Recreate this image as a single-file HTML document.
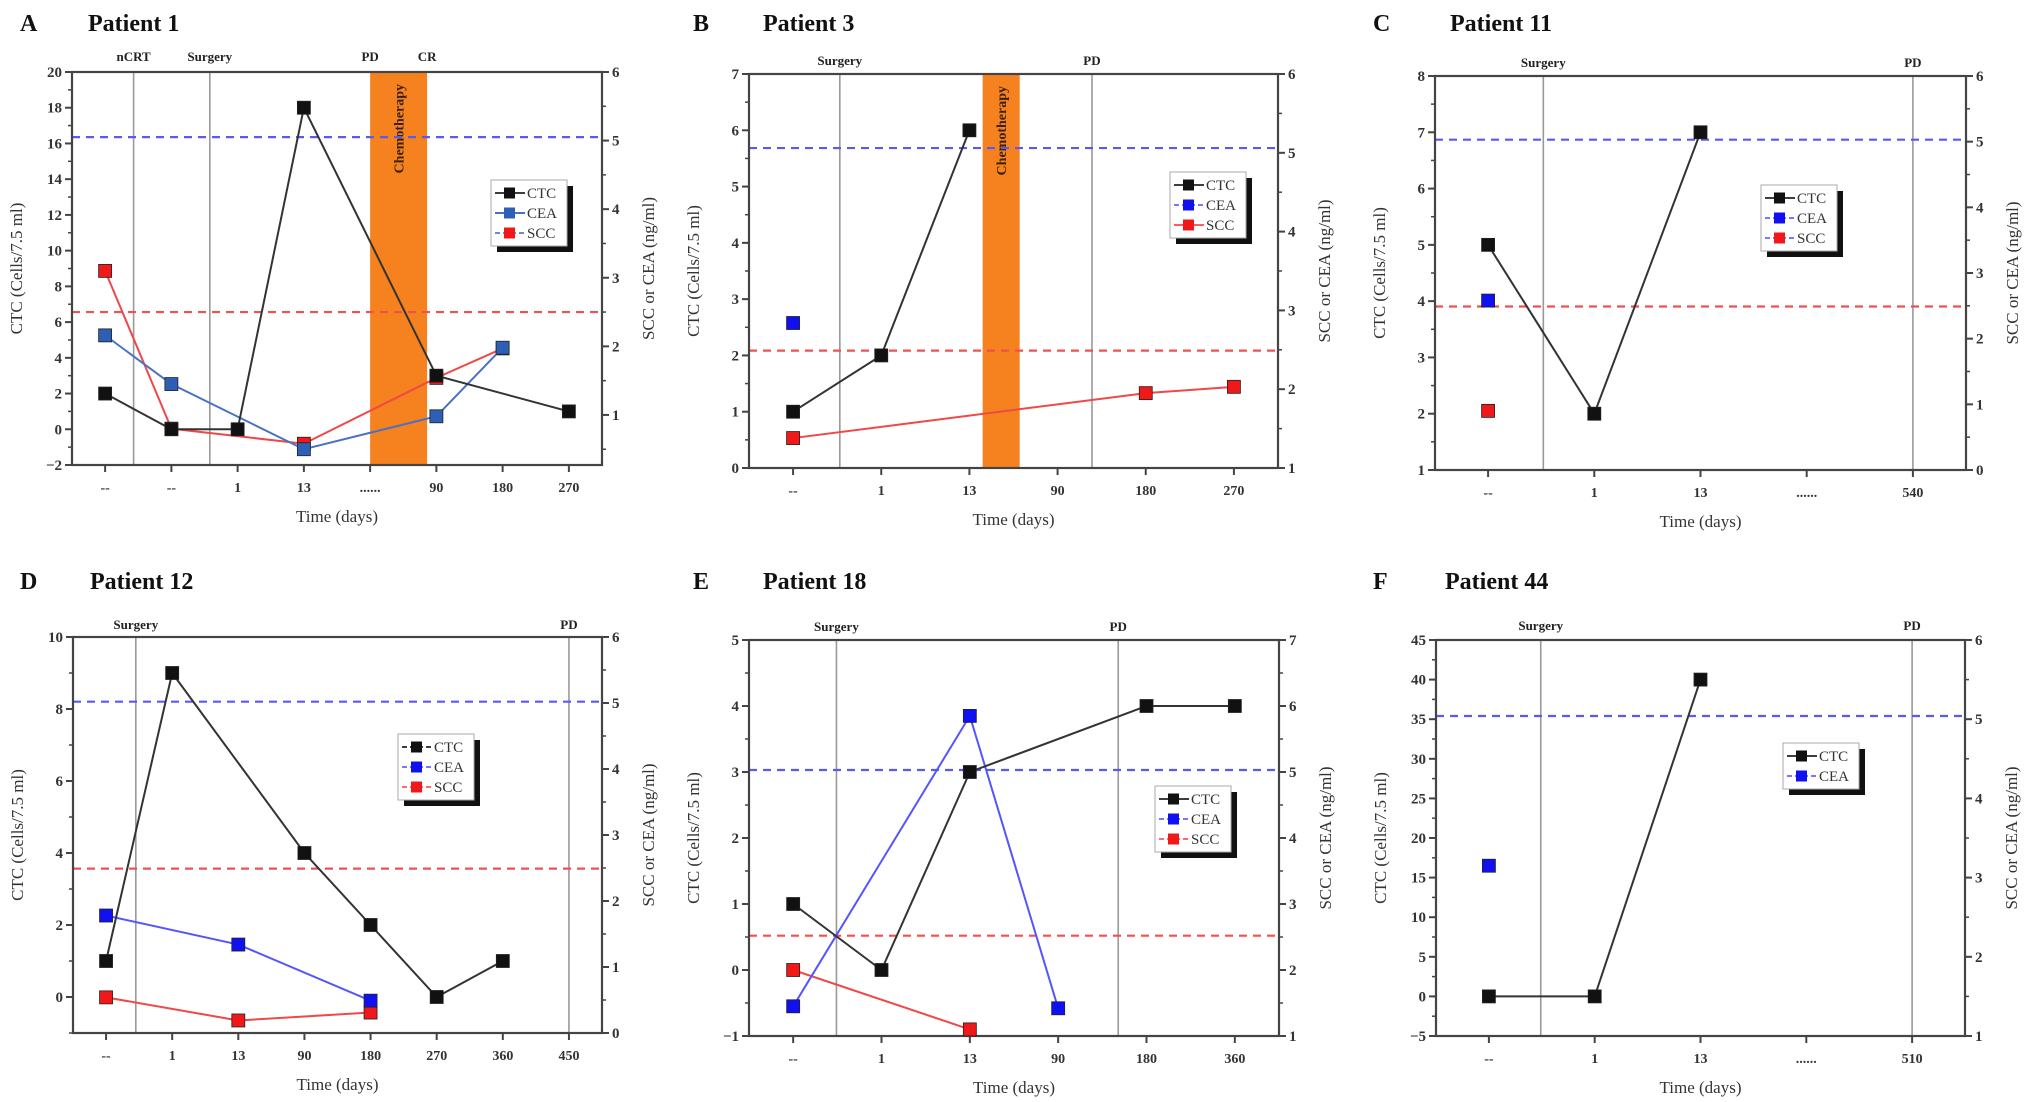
<!DOCTYPE html>
<html><head><meta charset="utf-8">
<style>
html,body{margin:0;padding:0;background:#fff;}
svg{display:block;font-family:"Liberation Serif",serif;}
</style></head>
<body>
<svg id="fig" width="2031" height="1102" viewBox="0 0 2031 1102" xmlns="http://www.w3.org/2000/svg"></svg>
<script>
// ---------- Data ----------
// Patient 1
const p1Labels=["--","--","1","13","......","90","180","270"];
const p1Ctc=[2,0,0,18,null,3,null,1];
const p1Cea=[2.16,1.45,null,0.5,null,0.98,1.98,null];
const p1Scc=[3.1,0.8,null,0.58,null,1.54,1.97,null];
const p1LeftTicks=[-2,0,2,4,6,8,10,12,14,16,18,20];
const p1RightTicks=[1,2,3,4,5,6];
// Patient 3
const p3Labels=["--","1","13","90","180","270"];
const p3Ctc=[1,2,6,null,null,null];
const p3Cea=[2.84,null,null,null,null,null];
const p3Scc=[1.38,null,null,null,1.95,2.03];
const p3LeftTicks=[0,1,2,3,4,5,6,7];
const p3RightTicks=[1,2,3,4,5,6];
// Patient 11
const p11Labels=["--","1","13","......","540"];
const p11Ctc=[5,2,7,null,null];
const p11Cea=[2.58,null,null,null,null];
const p11Scc=[0.9,null,null,null,null];
const p11LeftTicks=[1,2,3,4,5,6,7,8];
const p11RightTicks=[0,1,2,3,4,5,6];
// Patient 12
const p12Labels=["--","1","13","90","180","270","360","450"];
const p12Ctc=[1,9,null,4,2,0,1,null];
const p12Cea=[1.78,null,1.34,null,0.49,null,null,null];
const p12Scc=[0.54,null,0.19,null,0.31,null,null,null];
const p12LeftTicks=[0,2,4,6,8,10];
const p12RightTicks=[0,1,2,3,4,5,6];
// Patient 18
const p18Labels=["--","1","13","90","180","360"];
const p18Ctc=[1,0,3,null,4,4];
const p18Cea=[1.45,null,5.85,1.42,null,null];
const p18Scc=[2.0,null,1.1,null,null,null];
const p18LeftTicks=[-1,0,1,2,3,4,5];
const p18RightTicks=[1,2,3,4,5,6,7];
// Patient 44
const p44Labels=["--","1","13","......","510"];
const p44Ctc=[0,0,40,null,null];
const p44Cea=[3.15,null,null,null,null];
const p44LeftTicks=[-5,0,5,10,15,20,25,30,35,40,45];
const p44RightTicks=[1,2,3,4,5,6];
// thresholds (right axis units)
const ceaCutoff=[5.05,5.06,5.03,5.02,5.03,5.04];
const sccCutoff=[2.5,2.49,2.49,2.49,2.52,null];

// ---------- Layout ----------
const panels=[
 {id:'a',letter:'A',title:'Patient 1',lx:20,tx:88,ty:31,L:72,T:72,R:602,B:465,
  yMin:-2,yMax:20,yTicks:p1LeftTicks,yMinor:1,rMin:0.27,rMax:6,rTicks:p1RightTicks,
  labels:p1Labels,ctc:p1Ctc,cea:p1Cea,scc:p1Scc,ceaColor:'#2d5fb5',ceaLine:'#4a72c0',
  events:[{pos:0.43,t:'nCRT',line:true},{pos:1.58,t:'Surgery',line:true},{pos:4.0,t:'PD',line:false},{pos:4.86,t:'CR',line:false}],
  band:[4.0,4.86],evY:56,
  legend:{x:491,y:180,styles:['solid','solid','dashed'],lc:['#222','#2d5fb5','#5a78d0']},idx:0},
 {id:'b',letter:'B',title:'Patient 3',lx:693,tx:763,ty:31,L:749,T:74,R:1278,B:468,
  yMin:0,yMax:7,yTicks:p3LeftTicks,yMinor:0.5,rMin:1,rMax:6,rTicks:p3RightTicks,
  labels:p3Labels,ctc:p3Ctc,cea:p3Cea,scc:p3Scc,ceaColor:'#1010f0',ceaLine:'#5555ff',
  events:[{pos:0.53,t:'Surgery',line:true},{pos:3.39,t:'PD',line:true}],
  band:[2.15,2.57],evY:60,
  legend:{x:1170,y:172,styles:['solid','dashed','solid'],lc:['#222','#6666ff','#ff4444']},idx:1},
 {id:'c',letter:'C',title:'Patient 11',lx:1373,tx:1450,ty:31,L:1435,T:76,R:1966,B:470,
  yMin:1,yMax:8,yTicks:p11LeftTicks,yMinor:0.5,rMin:0,rMax:6,rTicks:p11RightTicks,
  labels:p11Labels,ctc:p11Ctc,cea:p11Cea,scc:p11Scc,ceaColor:'#1010f0',ceaLine:'#5555ff',
  events:[{pos:0.52,t:'Surgery',line:true},{pos:4.0,t:'PD',line:true}],
  band:null,evY:62,
  legend:{x:1761,y:185,styles:['solid','dashed','dashed'],lc:['#222','#6666ff','#6666ff']},idx:2},
 {id:'d',letter:'D',title:'Patient 12',lx:20,tx:90,ty:589,L:73,T:637,R:602,B:1033,
  yMin:-1,yMax:10,yTicks:p12LeftTicks,yMinor:1,rMin:0,rMax:6,rTicks:p12RightTicks,
  labels:p12Labels,ctc:p12Ctc,cea:p12Cea,scc:p12Scc,ceaColor:'#1010f0',ceaLine:'#5555ff',
  events:[{pos:0.45,t:'Surgery',line:true},{pos:7.0,t:'PD',line:true}],
  band:null,evY:624,
  legend:{x:398,y:734,styles:['dashed','dashed','dashed'],lc:['#222','#6666ff','#ff5555']},idx:3},
 {id:'e',letter:'E',title:'Patient 18',lx:693,tx:763,ty:589,L:749,T:640,R:1279,B:1036,
  yMin:-1,yMax:5,yTicks:p18LeftTicks,yMinor:0.5,rMin:1,rMax:7,rTicks:p18RightTicks,
  labels:p18Labels,ctc:p18Ctc,cea:p18Cea,scc:p18Scc,ceaColor:'#1010f0',ceaLine:'#5555ff',
  events:[{pos:0.49,t:'Surgery',line:true},{pos:3.68,t:'PD',line:true}],
  band:null,evY:626,
  legend:{x:1155,y:786,styles:['solid','dashed','dashed'],lc:['#222','#6666ff','#ff5555']},idx:4},
 {id:'f',letter:'F',title:'Patient 44',lx:1373,tx:1445,ty:589,L:1436,T:640,R:1965,B:1036,
  yMin:-5,yMax:45,yTicks:p44LeftTicks,yMinor:2.5,rMin:1,rMax:6,rTicks:p44RightTicks,
  labels:p44Labels,ctc:p44Ctc,cea:p44Cea,scc:null,ceaColor:'#1010f0',ceaLine:'#5555ff',
  events:[{pos:0.49,t:'Surgery',line:true},{pos:4.0,t:'PD',line:true}],
  band:null,evY:625,
  legend:{x:1783,y:743,styles:['solid','dashed'],lc:['#222','#6666ff']},idx:5}
];

const NS='http://www.w3.org/2000/svg';
const svg=document.getElementById('fig');
function mk(tag,attrs,parent,text){
  const e=document.createElementNS(NS,tag);
  for(const k in attrs) e.setAttribute(k,attrs[k]);
  if(text!==undefined) e.textContent=text;
  (parent||svg).appendChild(e);
  return e;
}

panels.forEach(p=>{
  const g=mk('g',{});
  
  
  const n=p.labels.length, sw=(p.R-p.L)/n;
  const xPos=i=>p.L+(i+0.5)*sw;
  const yL=v=>p.B-(v-p.yMin)/(p.yMax-p.yMin)*(p.B-p.T);
  const yR=v=>p.B-(v-p.rMin)/(p.rMax-p.rMin)*(p.B-p.T);

  // panel letter & title
  let t=mk('text',{x:p.lx,y:p.ty,'font-size':24,'font-weight':'bold',fill:'#111'},g,p.letter);
  
  
  t=mk('text',{x:p.tx,y:p.ty,'font-size':24,'font-weight':'bold',fill:'#111'},g,p.title);
  
  

  // chemo band
  if(p.band){
    const x1=xPos(p.band[0]), x2=xPos(p.band[1]);
    const r=mk('rect',{x:x1,y:p.T,width:x2-x1,height:p.B-p.T,fill:'#f5821f'},g);
    
    
    const cx=(x1+x2)/2;
    const ct=mk('text',{x:0,y:0,'font-size':14,'font-weight':'bold',fill:'#3a2010','text-anchor':'end',
      transform:`translate(${cx+5},${p.T+12}) rotate(-90)`},g,'Chemotherapy');
    
    
  }

  // event lines and labels
  p.events.forEach(ev=>{
    const x=xPos(ev.pos);
    if(ev.line){
      const l=mk('line',{x1:x,x2:x,y1:p.T,y2:p.B,stroke:'#999','stroke-width':1.6},g);
      
      
    }
    const et=mk('text',{x:x,y:p.evY+5,'font-size':13,'font-weight':'bold','text-anchor':'middle',fill:'#222'},g,ev.t);
    
    
  });

  // cutoff lines
  const cc=ceaCutoff[p.idx], sc=sccCutoff[p.idx];
  if(cc!==null){
    const l=mk('line',{x1:p.L,x2:p.R,y1:yR(cc),y2:yR(cc),stroke:'#5a5af0','stroke-width':2.2,'stroke-dasharray':'8 6'},g);
    
    
  }
  if(sc!==null){
    const l=mk('line',{x1:p.L,x2:p.R,y1:yR(sc),y2:yR(sc),stroke:'#f05050','stroke-width':2.2,'stroke-dasharray':'8 6'},g);
    
    
  }

  // axes frame
  const ax=mk('rect',{x:p.L,y:p.T,width:p.R-p.L,height:p.B-p.T,fill:'none',stroke:'#444','stroke-width':2.2},g);
  
  

  // left ticks
  p.yTicks.forEach(v=>{
    const y=yL(v);
    mk('line',{x1:p.L-7,x2:p.L,y1:y,y2:y,stroke:'#444','stroke-width':2},g);
    const tl=mk('text',{x:p.L-10,y:y+5,'font-size':15,'font-weight':'bold','text-anchor':'end',fill:'#333'},g,String(v).replace('-','\u2212'));
    
    
  });
  for(let v=p.yMin;v<=p.yMax+1e-9;v+=p.yMinor){
    const y=yL(v);
    mk('line',{x1:p.L-4,x2:p.L,y1:y,y2:y,stroke:'#444','stroke-width':1.5},g);
  }
  // right ticks
  p.rTicks.forEach(v=>{
    const y=yR(v);
    mk('line',{x1:p.R,x2:p.R+7,y1:y,y2:y,stroke:'#444','stroke-width':2},g);
    const tl=mk('text',{x:p.R+10,y:y+5,'font-size':15,'font-weight':'bold',fill:'#333'},g,String(v));
    
    
  });
  for(let v=Math.ceil(p.rMin*2)/2;v<=p.rMax+1e-9;v+=0.5){
    const y=yR(v);
    mk('line',{x1:p.R,x2:p.R+4,y1:y,y2:y,stroke:'#444','stroke-width':1.5},g);
  }
  // x ticks
  p.labels.forEach((lab,i)=>{
    const x=xPos(i);
    mk('line',{x1:x,x2:x,y1:p.B,y2:p.B+7,stroke:'#444','stroke-width':2},g);
    const tl=mk('text',{x:x,y:p.B+27,'font-size':14,'font-weight':'bold','text-anchor':'middle',fill:'#333'},g,lab);
    
    
  });

  // axis titles
  const mid=(p.T+p.B)/2;
  t=mk('text',{x:(p.L+p.R)/2,y:p.B+57,'font-size':17,'text-anchor':'middle',fill:'#333'},g,'Time (days)');
  
  
  t=mk('text',{x:0,y:0,'font-size':17,'text-anchor':'middle',fill:'#333',transform:`translate(${p.L-50},${mid}) rotate(-90)`},g,'CTC (Cells/7.5 ml)');
  
  
  t=mk('text',{x:0,y:0,'font-size':17,'text-anchor':'middle',fill:'#333',transform:`translate(${p.R+52},${mid}) rotate(-90)`},g,'SCC or CEA (ng/ml)');
  
  

  // series
  function series(vals,scale,lineColor,markColor,name){
    if(!vals) return;
    const pts=[];
    vals.forEach((v,i)=>{ if(v!==null) pts.push([xPos(i),scale(v)]); });
    if(pts.length>1){
      const pl=mk('polyline',{points:pts.map(q=>q.join(',')).join(' '),fill:'none',stroke:lineColor,'stroke-width':2},g);
      
      
    }
    pts.forEach(q=>{
      const r=mk('rect',{x:q[0]-6.5,y:q[1]-6.5,width:13,height:13,fill:markColor,stroke:'#222','stroke-width':0.8},g);
      
      
    });
  }
  series(p.scc,yR,'#f04848','#f01818','scc');
  series(p.cea,yR,p.ceaLine,p.ceaColor,'cea');
  series(p.ctc,yL,'#333','#111','ctc');

  // legend
  const lg=p.legend, names=['CTC','CEA','SCC'], mcols=['#111',p.ceaColor,'#f01818'];
  const rows=lg.styles.length, w=76, h=rows*20+6;
  const lgG=mk('g',{},g);
  
  
  mk('rect',{x:lg.x+6,y:lg.y+6,width:w,height:h,fill:'#111'},lgG);
  mk('rect',{x:lg.x,y:lg.y,width:w,height:h,fill:'#fff',stroke:'#aaa','stroke-width':1},lgG);
  for(let k=0;k<rows;k++){
    const yy=lg.y+13+k*20;
    const en=mk('g',{},lgG);
    
    
    mk('line',{x1:lg.x+4,x2:lg.x+34,y1:yy,y2:yy,stroke:lg.lc[k],'stroke-width':1.8,'stroke-dasharray':lg.styles[k]==='dashed'?'5 3':'none'},en);
    mk('rect',{x:lg.x+13,y:yy-5.5,width:11,height:11,fill:mcols[k]},en);
    mk('text',{x:lg.x+36,y:yy+5,'font-size':15,fill:'#333'},en,names[k]);
  }
});
</script>
</body></html>
